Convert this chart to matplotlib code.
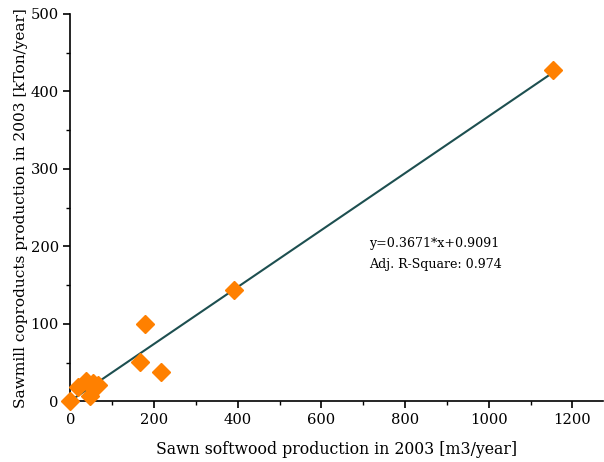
import matplotlib
matplotlib.use("Agg")
import matplotlib.pyplot as plt
import numpy as np
from matplotlib.ticker import MultipleLocator

sawn = [0, 17, 38, 46, 55, 65, 166, 178, 217, 391, 1154]
coprod = [0, 18.3, 26.5, 6.7, 24, 21, 50.6, 100, 37.6, 144, 427]
slope, intercept = 0.3671, 0.9091
fit_text = ["y=0.3671*x+0.9091", "Adj. R-Square: 0.974"]

plt.rcParams['font.family'] = ['DejaVu Serif']
fig = plt.figure(figsize=(6.04, 4.62), dpi=100)
ax = fig.add_axes([0.1167, 0.131, 0.8816, 0.839])

xl = np.array([0, max(sawn)])
ax.plot(xl, slope * xl + intercept, color='#1d4f50', lw=1.5, zorder=2)
ax.plot(sawn, coprod, 'D', color='#ff8000', ms=9.5, mec='#ff8000', zorder=3, clip_on=False)

ax.set_xlim(0, 1273)
ax.set_ylim(0, 500)
ax.xaxis.set_major_locator(MultipleLocator(200))
ax.xaxis.set_minor_locator(MultipleLocator(100))
ax.yaxis.set_major_locator(MultipleLocator(100))
ax.yaxis.set_minor_locator(MultipleLocator(50))
for s in ['top', 'right']:
    ax.spines[s].set_visible(False)
for s in ['left', 'bottom']:
    ax.spines[s].set_linewidth(1.2)
ax.tick_params(which='major', direction='out', length=5, width=1.2, labelsize=10.6)
ax.tick_params(which='minor', direction='out', length=3, width=1.0)

ax.text(713, 190, fit_text[0] + "\n" + fit_text[1], fontsize=9.1, va='center', ha='left', linespacing=1.75)

ax.set_xlabel("Sawn softwood production in 2003 [m3/year]", fontsize=11.3, labelpad=10)
ax.set_ylabel("Sawmill coproducts production in 2003 [kTon/year]", fontsize=11.1, labelpad=2)

fig.savefig("out.png", dpi=100)
